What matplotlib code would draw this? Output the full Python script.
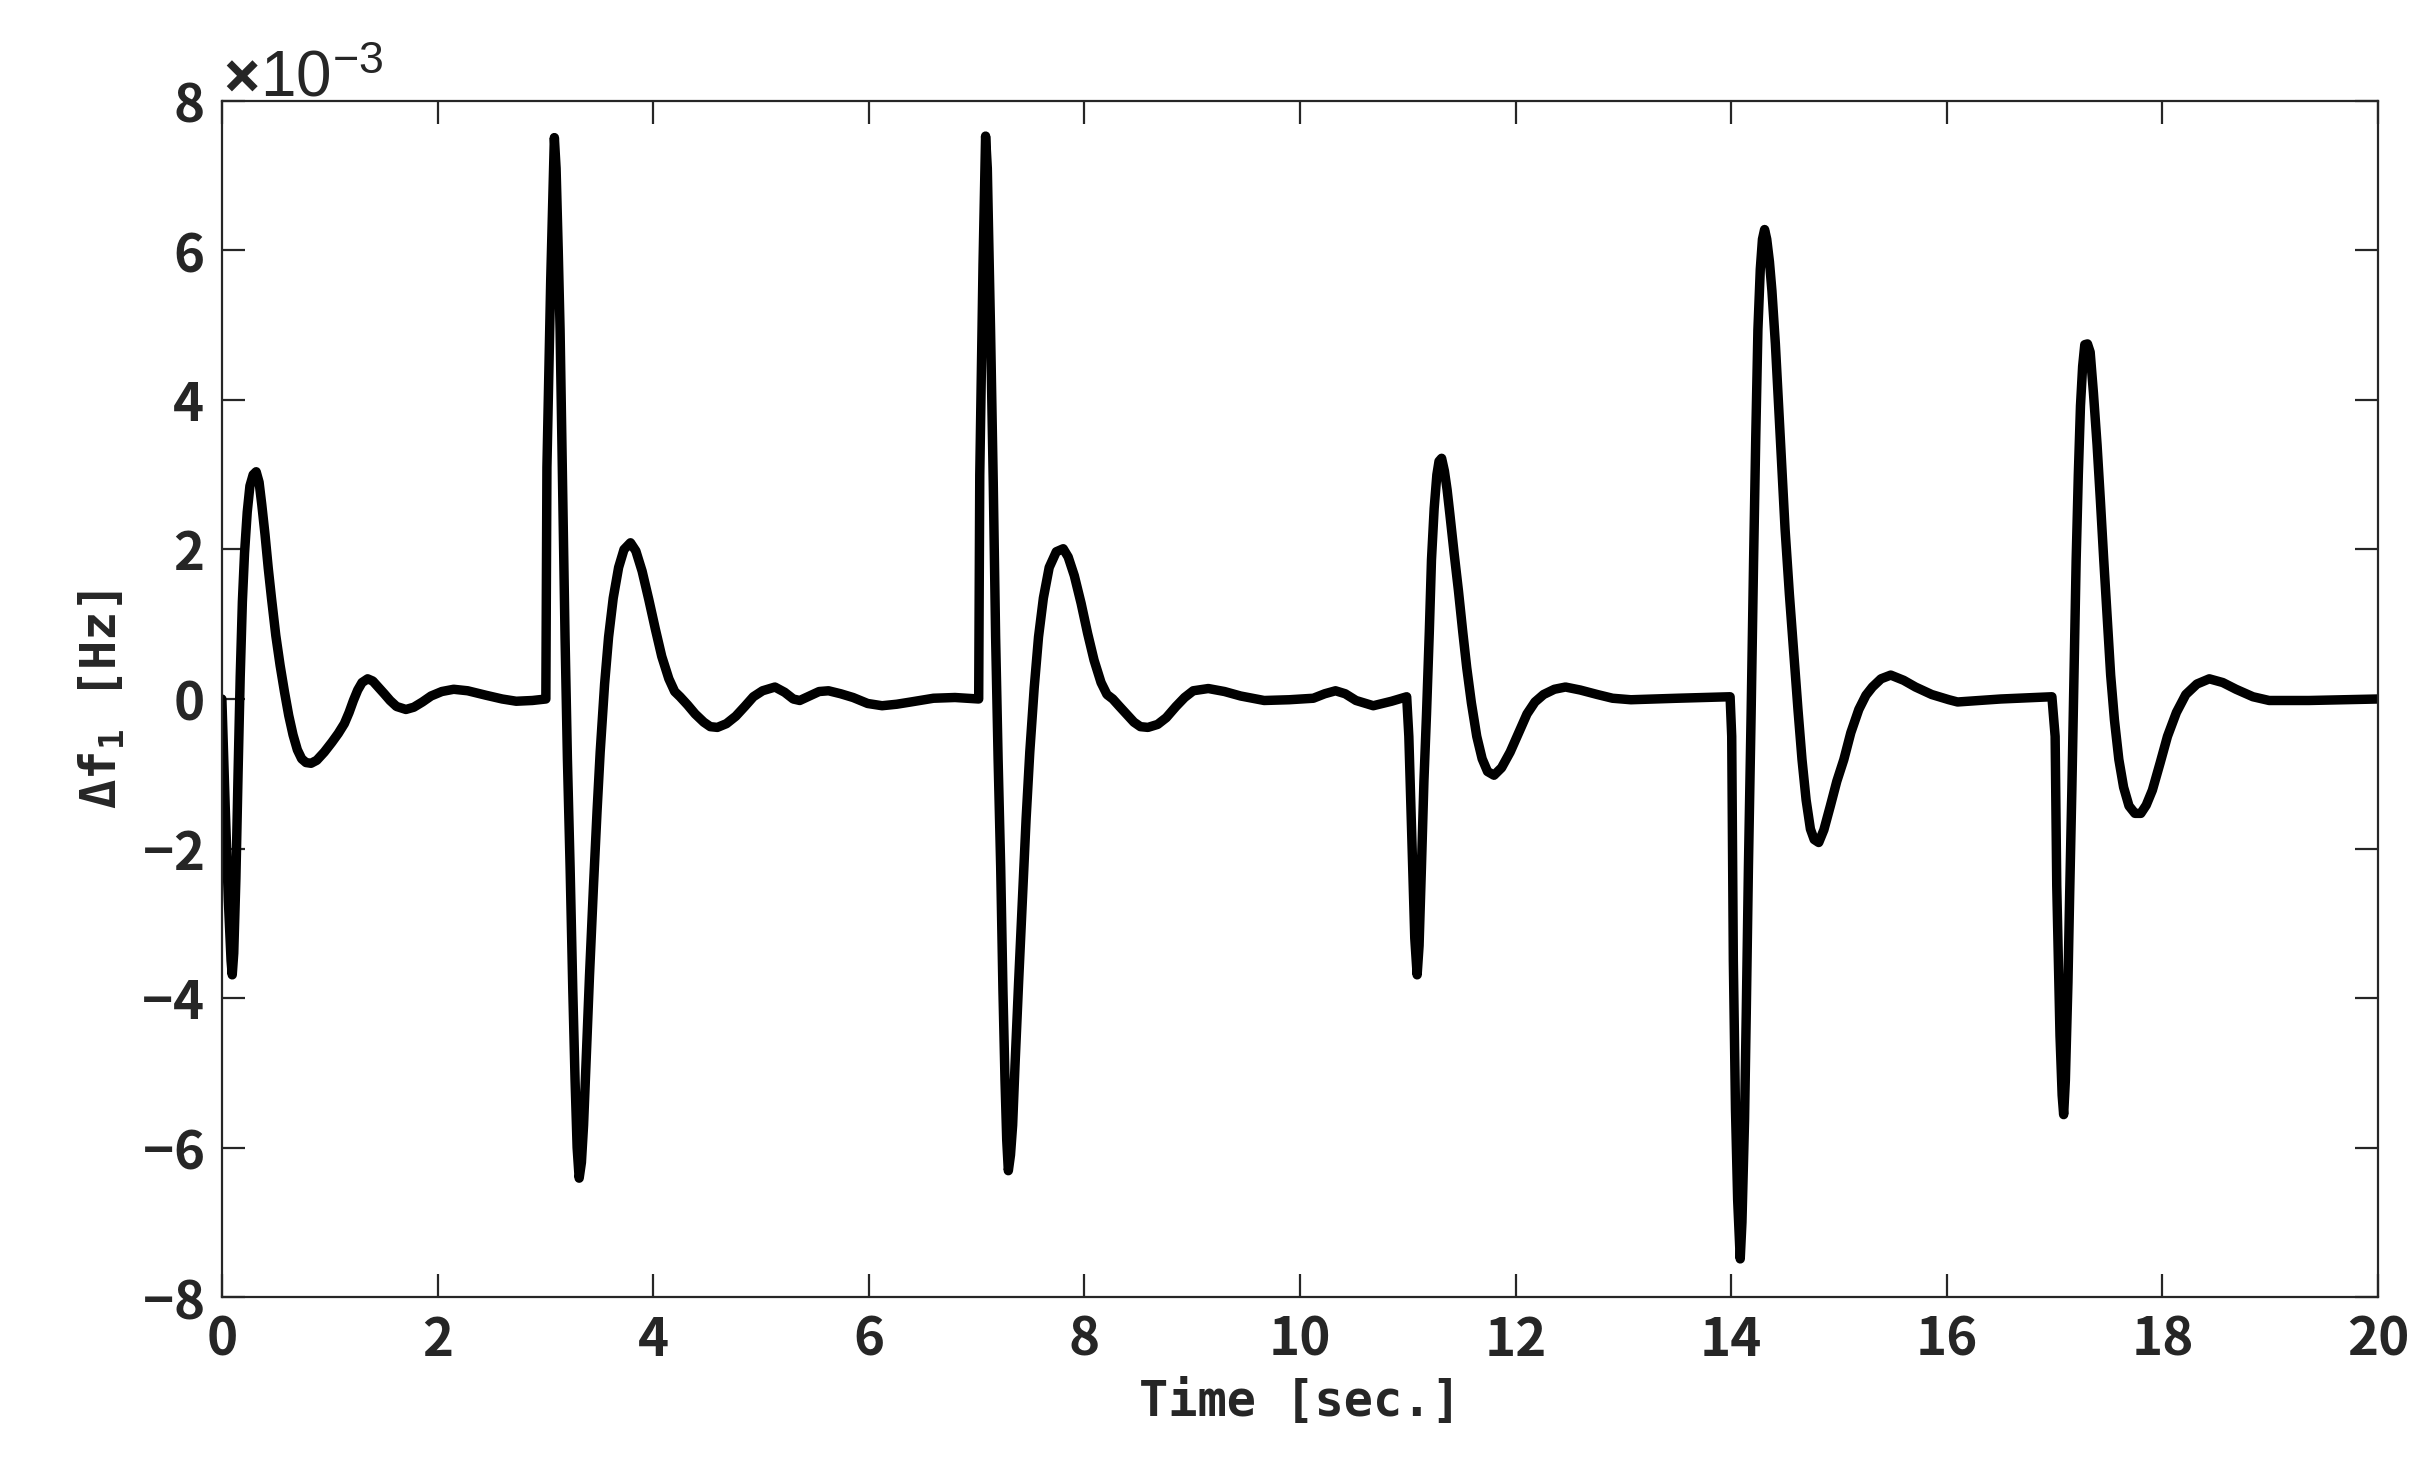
import numpy as np
import matplotlib
matplotlib.use("Agg")
import matplotlib.pyplot as plt
from matplotlib.ticker import ScalarFormatter, MultipleLocator

# frequency deviation of area 1 (values in 1e-3 Hz)
time_s = [
    # first disturbance at t = 0
    0.00, 0.03, 0.06, 0.085, 0.096, 0.11, 0.13, 0.15, 0.17, 0.19, 0.21,
    0.235, 0.26, 0.29, 0.318, 0.345, 0.37, 0.40, 0.43, 0.46, 0.50, 0.54,
    0.58, 0.62, 0.66, 0.70, 0.74, 0.78, 0.827, 0.88, 0.95, 1.02, 1.08,
    1.136, 1.18, 1.22, 1.26, 1.30, 1.352, 1.40, 1.45, 1.506, 1.56, 1.62,
    1.707, 1.78, 1.86, 1.94, 2.04, 2.15, 2.28, 2.45, 2.60, 2.73, 2.88,
    # t = 3
    3.005, 3.015, 3.05, 3.084, 3.10, 3.12, 3.137, 3.16, 3.183, 3.205, 3.23,
    3.255, 3.276, 3.295, 3.314, 3.335, 3.355, 3.38, 3.41, 3.447, 3.48, 3.509,
    3.55, 3.587, 3.63, 3.68, 3.73, 3.79, 3.84, 3.898, 3.96, 4.02, 4.08,
    4.146, 4.20, 4.25, 4.32, 4.39, 4.47, 4.53, 4.596, 4.68, 4.767, 4.85,
    4.93, 5.015, 5.13, 5.22, 5.30, 5.36, 5.45, 5.54, 5.627, 5.74, 5.855,
    5.99, 6.124, 6.26, 6.39, 6.60, 6.80,
    # t = 7
    7.02, 7.03, 7.06, 7.084, 7.10, 7.115, 7.13, 7.155, 7.177, 7.20, 7.224,
    7.245, 7.264, 7.28, 7.295, 7.315, 7.335, 7.357, 7.39, 7.43, 7.46, 7.494,
    7.535, 7.575, 7.62, 7.674, 7.74, 7.804, 7.85, 7.907, 7.97, 8.03, 8.09,
    8.155, 8.21, 8.264, 8.32, 8.39, 8.46, 8.52, 8.59, 8.68, 8.76, 8.85,
    8.93, 9.01, 9.15, 9.30, 9.45, 9.668, 9.90, 10.124, 10.23, 10.33, 10.42,
    10.52, 10.68, 10.85, 10.99,
    # t = 11
    11.01, 11.04, 11.065, 11.087, 11.105, 11.127, 11.15, 11.174, 11.20,
    11.22, 11.245, 11.27, 11.29, 11.314, 11.34, 11.365, 11.39, 11.43, 11.47,
    11.51, 11.547, 11.59, 11.64, 11.69, 11.74, 11.80, 11.87, 11.95, 12.03,
    12.106, 12.18, 12.26, 12.36, 12.463, 12.60, 12.758, 12.90, 13.07, 13.50,
    13.99,
    # t = 14
    14.005, 14.02, 14.04, 14.06, 14.084, 14.10, 14.124, 14.14, 14.16, 14.185,
    14.208, 14.228, 14.248, 14.27, 14.29, 14.31, 14.33, 14.355, 14.378,
    14.41, 14.44, 14.47, 14.50, 14.54, 14.58, 14.62, 14.657, 14.695, 14.735,
    14.77, 14.812, 14.86, 14.92, 14.98, 15.045, 15.11, 15.184, 15.25, 15.31,
    15.39, 15.48, 15.60, 15.71, 15.86, 16.02, 16.10, 16.30, 16.50, 16.975,
    # t = 17
    17.005, 17.02, 17.05, 17.07, 17.084, 17.10, 17.124, 17.14, 17.16, 17.18,
    17.20, 17.22, 17.24, 17.26, 17.28, 17.305, 17.33, 17.36, 17.394, 17.425,
    17.456, 17.49, 17.52, 17.555, 17.596, 17.64, 17.69, 17.745, 17.80,
    17.85, 17.907, 17.98, 18.047, 18.13, 18.217, 18.32, 18.435, 18.56,
    18.683, 18.84, 18.99, 19.36, 20.00,
]
delta_f1 = [
    0.00, -1.40, -2.70, -3.50, -3.69, -3.40, -2.40, -1.00, 0.30, 1.30, 1.95,
    2.50, 2.85, 3.00, 3.04, 2.90, 2.60, 2.20, 1.75, 1.35, 0.85, 0.45,
    0.10, -0.22, -0.48, -0.68, -0.80, -0.85, -0.86, -0.82, -0.71, -0.58, -0.46,
    -0.33, -0.18, -0.02, 0.12, 0.22, 0.27, 0.24, 0.16, 0.07, -0.02, -0.10,
    -0.14, -0.11, -0.04, 0.04, 0.10, 0.13, 0.11, 0.05, 0.00, -0.03, -0.02,
    0.00, 3.10, 5.60, 7.51, 7.10, 6.00, 4.94, 2.90, 0.83, -0.80, -2.25,
    -3.90, -5.10, -6.00, -6.41, -6.20, -5.70, -4.80, -3.70, -2.50, -1.50, -0.71,
    0.20, 0.83, 1.35, 1.76, 2.00, 2.09, 1.98, 1.71, 1.33, 0.94, 0.57,
    0.27, 0.10, 0.03, -0.08, -0.20, -0.31, -0.37, -0.38, -0.33, -0.23, -0.10,
    0.03, 0.11, 0.16, 0.09, 0.00, -0.02, 0.04, 0.10, 0.11, 0.07, 0.02,
    -0.06, -0.09, -0.07, -0.04, 0.01, 0.02,
    0.00, 3.00, 5.80, 7.53, 7.10, 6.00, 4.94, 2.90, 0.83, -0.80, -2.25,
    -3.90, -5.10, -5.90, -6.31, -6.10, -5.70, -4.90, -3.80, -2.55, -1.60, -0.71,
    0.15, 0.83, 1.35, 1.76, 1.97, 2.01, 1.90, 1.65, 1.28, 0.88, 0.52,
    0.22, 0.06, 0.00, -0.09, -0.20, -0.31, -0.37, -0.38, -0.34, -0.25, -0.10,
    0.02, 0.11, 0.14, 0.10, 0.04, -0.02, -0.01, 0.01, 0.07, 0.11, 0.07,
    -0.02, -0.09, -0.03, 0.03,
    -0.50, -2.00, -3.20, -3.69, -3.30, -2.25, -1.10, -0.20, 0.90,
    1.86, 2.55, 3.00, 3.18, 3.22, 3.05, 2.80, 2.48, 1.95, 1.45,
    0.90, 0.42, -0.05, -0.50, -0.80, -0.97, -1.02, -0.92, -0.71, -0.45,
    -0.20, -0.04, 0.06, 0.13, 0.16, 0.12, 0.06, 0.01, -0.01, 0.01,
    0.03,
    -0.50, -3.50, -5.50, -6.70, -7.49, -7.00, -5.64, -4.20, -2.25, -0.20,
    1.86, 3.50, 4.94, 5.75, 6.15, 6.28, 6.15, 5.85, 5.46,
    4.75, 3.92, 3.10, 2.27, 1.40, 0.63, -0.15, -0.81, -1.35, -1.74,
    -1.88, -1.92, -1.75, -1.43, -1.10, -0.81, -0.45, -0.14, 0.05, 0.16,
    0.27, 0.32, 0.25, 0.16, 0.06, -0.01, -0.04, -0.02, 0.00, 0.03,
    -0.50, -2.50, -4.50, -5.30, -5.56, -5.10, -3.79, -2.60, -1.22, 0.30,
    1.86, 3.00, 3.92, 4.45, 4.74, 4.75, 4.64, 4.10, 3.40, 2.65,
    1.86, 1.05, 0.32, -0.28, -0.81, -1.18, -1.43, -1.53, -1.53,
    -1.42, -1.22, -0.85, -0.50, -0.18, 0.06, 0.20, 0.27, 0.22,
    0.13, 0.03, -0.02, -0.02, 0.00,
]

x_ticks = np.arange(0, 21, 2)
axis_color = "#262626"
tick_family = ["Noto Sans CJK JP", "DejaVu Sans"]

plt.rcParams["font.family"] = ["DejaVu Sans Mono"]
plt.rcParams["font.weight"] = "bold"
plt.rcParams["axes.labelweight"] = "bold"
plt.rcParams["mathtext.fontset"] = "custom"
plt.rcParams["mathtext.rm"] = "DejaVu Sans Mono:bold"
plt.rcParams["mathtext.it"] = "DejaVu Sans Mono:bold"
plt.rcParams["mathtext.bf"] = "DejaVu Sans Mono:bold"

fig = plt.figure(figsize=(24.33, 14.57), dpi=100)
ax = fig.add_axes([0.0912, 0.1098, 0.8862, 0.8209])

ax.plot(time_s, np.array(delta_f1) * 1e-3, color="black", lw=6.8,
        solid_joinstyle="round", solid_capstyle="round")

ax.set_xlim(0, 20)
ax.set_ylim(-8e-3, 8e-3)
ax.set_xticks(x_ticks)
ax.yaxis.set_major_locator(MultipleLocator(2e-3))

fmt = ScalarFormatter(useMathText=True)
fmt.set_powerlimits((-2, 2))
ax.yaxis.set_major_formatter(fmt)

for side in ax.spines.values():
    side.set_color(axis_color)
    side.set_linewidth(1.6)
    side.set_zorder(3)

ax.tick_params(which="both", direction="in", top=True, right=True,
               length=16.5, width=1.6, color=axis_color,
               labelcolor=axis_color, labelsize=38)
ax.tick_params(axis="x", pad=12)
ax.tick_params(axis="y", pad=13)
for lab in ax.get_xticklabels() + ax.get_yticklabels():
    lab.set_family(tick_family)

off = ax.yaxis.get_offset_text()
off.set_fontsize(46)
off.set_color(axis_color)
off.set_family("Liberation Sans")
off.set_weight("normal")

ax.set_xlabel("Time [sec.]", fontsize=35, color=axis_color, labelpad=8)
ax.set_ylabel("Δf$_1$ [Hz]", fontsize=35, color=axis_color, labelpad=10)

fig.savefig("out.png", dpi=100, facecolor="white")
